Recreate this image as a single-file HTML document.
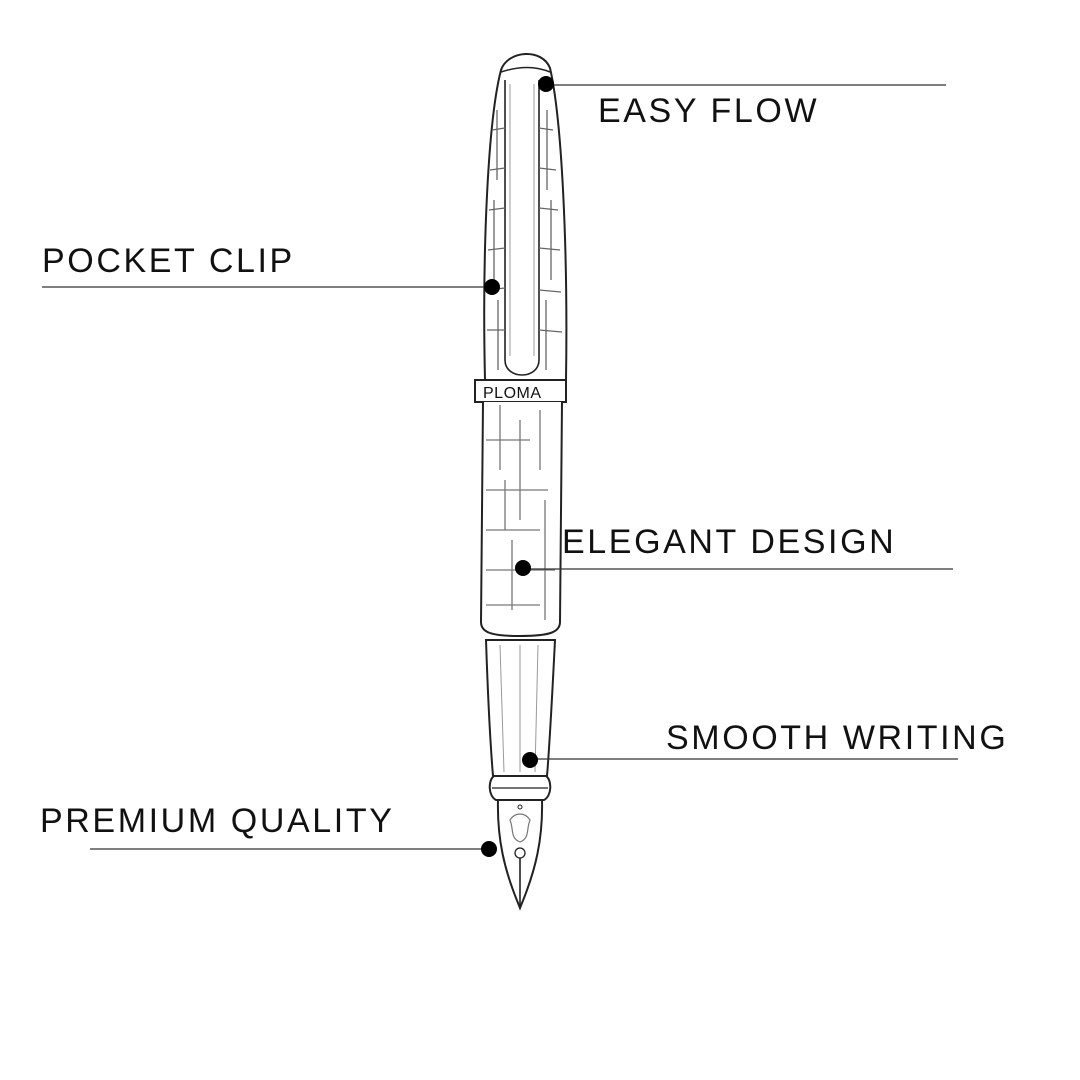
<!DOCTYPE html>
<html><head><meta charset="utf-8"><style>
html,body{margin:0;padding:0;background:#fff;}
svg{display:block}
text{font-family:"Liberation Sans",sans-serif;font-size:34px;fill:#111;letter-spacing:2.6px}
</style></head><body>
<svg width="1080" height="1080" viewBox="0 0 1080 1080" xmlns="http://www.w3.org/2000/svg">
<rect width="1080" height="1080" fill="#fff"/>
<g fill="none" stroke="#222" stroke-width="2">
<path d="M485,380 C482,250 488,120 501,70 C508,50 542,48 550,68 C562,120 568,250 566,380 Z" fill="#fff"/>
<path d="M501,72 C520,66 535,66 550,72" stroke-width="1.5"/>
<path d="M505,80 L505,360 C505,380 539,380 539,360 L539,80" stroke-width="1.6"/>
<path d="M510,84 L510,356 M534,84 L534,356" stroke="#999" stroke-width="1"/>
<g stroke="#666" stroke-width="1.3">
<path d="M492,130 L505,128 M490,170 L505,168 M489,210 L505,208 M488,250 L505,248 M487,290 L505,288 M487,330 L505,330 M539,128 L553,130 M539,168 L556,170 M539,208 L558,210 M539,248 L560,250 M539,290 L561,292 M539,330 L562,332"/>
<path d="M497,110 L497,180 M494,200 L494,280 M498,300 L498,370 M547,110 L547,190 M551,200 L551,280 M546,300 L546,370"/>
</g>
<rect x="475" y="380" width="91" height="22" fill="#fff"/>
<path d="M483,402 L481,622 C481,632 490,636 520,636 C550,636 560,632 560,622 L562,402" fill="#fff"/>
<g stroke="#777" stroke-width="1.3">
<path d="M486,440 L530,440 M486,490 L548,490 M486,530 L540,530 M486,570 L555,570 M486,605 L540,605"/>
<path d="M500,405 L500,470 M520,420 L520,520 M512,540 L512,610 M540,410 L540,470 M545,500 L545,620 M505,480 L505,530"/>
</g>
<path d="M486,640 C488,700 490,740 493,776 L547,776 C550,740 552,700 555,640 Z" fill="#fff"/>
<path d="M500,645 L504,772 M520,645 L520,772 M538,645 L535,772" stroke="#999" stroke-width="1"/>
<path d="M494,776 C488,780 488,796 496,800 L544,800 C552,796 552,780 546,776 Z" fill="#fff"/>
<path d="M492,788 L548,788" stroke-width="1.3"/>
<path d="M498,800 C497,840 505,870 516,898 L520,908 L524,898 C535,870 543,840 542,800 Z" fill="#fff"/>
<path d="M520,850 L520,905" stroke-width="1.6"/>
<circle cx="520" cy="853" r="5" fill="#fff" stroke-width="1.3"/>
<path d="M510,820 C515,812 525,812 530,820 C526,830 530,838 520,842 C510,838 514,830 510,820Z" stroke="#777" stroke-width="1.2"/>
<circle cx="520" cy="807" r="2" stroke-width="1"/>
</g>
<text x="483" y="398" style="font-size:16px;letter-spacing:0.5px">PLOMA</text>
<g stroke="#333" stroke-width="1.2">
<line x1="546" y1="85" x2="946" y2="85"/>
<line x1="42" y1="287" x2="492" y2="287"/>
<line x1="523" y1="569" x2="953" y2="569"/>
<line x1="530" y1="759" x2="958" y2="759"/>
<line x1="90" y1="849" x2="489" y2="849"/>
</g>
<g fill="#000">
<circle cx="546" cy="84" r="8"/>
<circle cx="492" cy="287" r="8"/>
<circle cx="523" cy="568" r="8"/>
<circle cx="530" cy="760" r="8"/>
<circle cx="489" cy="849" r="8"/>
</g>
<text x="598" y="122">EASY FLOW</text>
<text x="42" y="272">POCKET CLIP</text>
<text x="562" y="553">ELEGANT DESIGN</text>
<text x="666" y="749">SMOOTH WRITING</text>
<text x="40" y="832">PREMIUM QUALITY</text>
</svg>
</body></html>
